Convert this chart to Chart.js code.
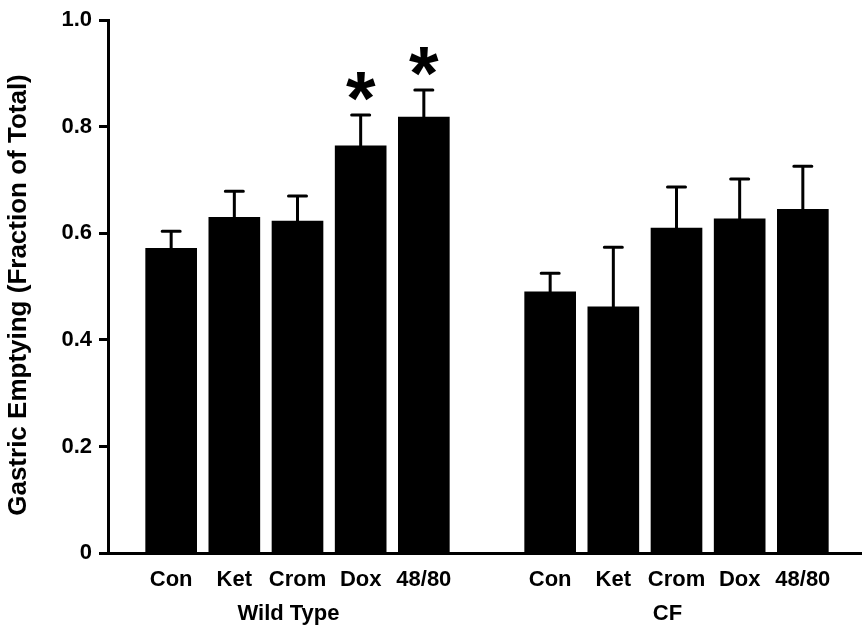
<!DOCTYPE html>
<html lang="en">
<head>
<meta charset="UTF-8">
<title>Gastric Emptying</title>
<style>
  html, body { margin: 0; padding: 0; background: #fff; overflow: hidden; }
  canvas { display: block; }
</style>
</head>
<body>
<canvas id="chart" width="866" height="630"></canvas>
<script src="https://cdn.jsdelivr.net/npm/chart.js"></script>
<script>
const treatments = ['Con', 'Ket', 'Crom', 'Dox', '48/80'];
const groupNames = ['Wild Type', 'CF'];
const wtMeans = [0.572, 0.630, 0.623, 0.764, 0.818];
const wtSem = [0.032, 0.049, 0.047, 0.058, 0.051];
const wtStar = [false, false, false, true, true];
const cfMeans = [0.490, 0.462, 0.610, 0.627, 0.645];
const cfSem = [0.035, 0.112, 0.077, 0.075, 0.081];
const cfStar = [false, false, false, false, false];
const yTicks = [0, 0.2, 0.4, 0.6, 0.8, 1.0];
const yTitle = 'Gastric Emptying (Fraction of Total)';

// empty slots at the ends and between the two groups
const labels = [''].concat(treatments, [''], treatments, ['']);
const means = [null].concat(wtMeans, [null], cfMeans, [null]);
const sems = [null].concat(wtSem, [null], cfSem, [null]);
const stars = [false].concat(wtStar, [false], cfStar, [false]);
const groupIdx = [[1, 2, 3, 4, 5], [7, 8, 9, 10, 11]];

const FONT = '"Liberation Sans", Arial, Helvetica, sans-serif';

const extras = {
  id: 'extras',
  afterDatasetsDraw(chart) {
    const ctx = chart.ctx, x = chart.scales.x, y = chart.scales.y;
    ctx.save();
    ctx.strokeStyle = '#000';
    ctx.fillStyle = '#000';
    ctx.lineWidth = 3;
    ctx.lineCap = 'round';
    means.forEach((m, i) => {
      if (m == null) return;
      const px = x.getPixelForValue(i);
      const top = y.getPixelForValue(m);
      const cap = y.getPixelForValue(m + sems[i]);
      ctx.beginPath();
      ctx.moveTo(px, top);
      ctx.lineTo(px, cap);
      ctx.moveTo(px - 9, cap);
      ctx.lineTo(px + 9, cap);
      ctx.stroke();
      if (stars[i]) {
        const size = 76;
        ctx.font = 'bold ' + size + 'px ' + FONT;
        ctx.textAlign = 'center';
        ctx.textBaseline = 'alphabetic';
        ctx.fillText('*', px, cap - 26 + 0.46 * size);
      }
    });
    // group labels under the category names
    ctx.font = 'bold 22px ' + FONT;
    ctx.textAlign = 'center';
    ctx.textBaseline = 'alphabetic';
    groupIdx.forEach((g, k) => {
      const cx = (x.getPixelForValue(g[0]) + x.getPixelForValue(g[g.length - 1])) / 2 - 9;
      ctx.fillText(groupNames[k], cx, 620);
    });
    // y axis title
    ctx.translate(19, 295);
    ctx.rotate(-Math.PI / 2);
    ctx.font = 'bold 26px ' + FONT;
    ctx.textBaseline = 'middle';
    ctx.fillText(yTitle, 0, 0);
    ctx.restore();
  }
};

new Chart(document.getElementById('chart'), {
  type: 'bar',
  data: {
    labels: labels,
    datasets: [{
      data: means,
      backgroundColor: '#000',
      borderWidth: 0,
      barThickness: 51
    }]
  },
  options: {
    responsive: false,
    animation: false,
    layout: { padding: { top: 9, right: 0, bottom: 0, left: 0 } },
    plugins: { legend: { display: false }, tooltip: { enabled: false } },
    scales: {
      x: {
        offset: false,
        grid: { display: false, drawTicks: false },
        border: { display: true, color: '#000', width: 3 },
        ticks: {
          color: '#000', autoSkip: false, maxRotation: 0, padding: 14,
          font: { family: FONT, size: 22, weight: 'bold' }
        },
        afterFit(s) { s.height = 77; s.paddingLeft = 0; s.paddingRight = 0; }
      },
      y: {
        min: 0,
        max: 1.0,
        afterBuildTicks(s) { s.ticks = yTicks.map(v => ({ value: v })); },
        ticks: {
          color: '#000', padding: 7,
          font: { family: FONT, size: 22, weight: 'bold' },
          callback: v => v === 0 ? '0' : v.toFixed(1)
        },
        grid: { drawOnChartArea: false, drawTicks: true, tickLength: 9, tickWidth: 3, tickColor: '#000' },
        border: { display: true, color: '#000', width: 3 },
        afterFit(s) { s.width = 108; }
      }
    }
  },
  plugins: [extras]
});
</script>
</body>
</html>
